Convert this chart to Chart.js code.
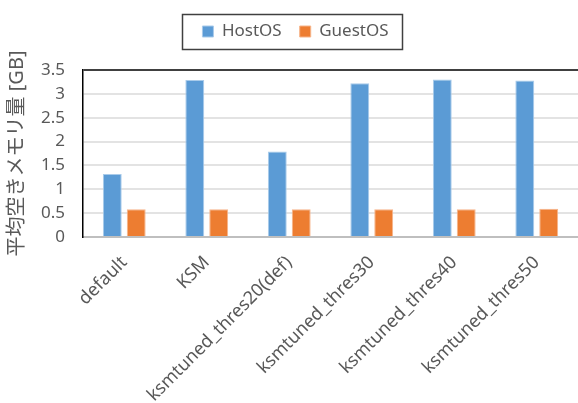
<!DOCTYPE html>
<html>
<head>
<meta charset="utf-8">
<script src="https://cdn.jsdelivr.net/npm/chart.js@4"></script>
<style>
  html, body { margin: 0; padding: 0; background: #fff; }
  #wrap { width: 578px; height: 403px; }
</style>
</head>
<body>
<div id="wrap"><canvas id="memChart"></canvas></div>
<script>
const categories = ['default', 'KSM', 'ksmtuned_thres20(def)', 'ksmtuned_thres30', 'ksmtuned_thres40', 'ksmtuned_thres50'];
const hostOS = [1.32, 3.29, 1.79, 3.22, 3.30, 3.28];
const guestOS = [0.58, 0.58, 0.58, 0.58, 0.58, 0.59];
const yTickLabels = ['0', '0.5', '1', '1.5', '2', '2.5', '3', '3.5'];

const FONT = '"Noto Sans", "Noto Sans CJK JP", sans-serif';
const TEXT = '#595959';
const LEGEND_SHIFT = 5;

// border round the legend items, like the Excel legend frame;
// also leaves extra room under the legend before the plot area
const legendFrame = {
    id: 'legendFrame',
    afterInit(chart) {
        const legend = chart.legend;
        if (!legend) return;
        const fit = legend.fit;
        legend.fit = function () {
            fit.call(this);
            this.height += 20;
        };
        const draw = legend.draw;
        legend.draw = function () {
            const c = this.ctx;
            c.save();
            c.translate(LEGEND_SHIFT, 0);
            draw.call(this);
            c.restore();
        };
    },
    afterDraw(chart) {
        const boxes = chart.legend && chart.legend.legendHitBoxes;
        if (!boxes || !boxes.length) return;
        const left = Math.min(...boxes.map(b => b.left)) - 20 + LEGEND_SHIFT;
        const right = Math.max(...boxes.map(b => b.left + b.width)) + 14 + LEGEND_SHIFT;
        const cy = boxes[0].top + boxes[0].height / 2;
        const ctx = chart.ctx;
        ctx.save();
        ctx.strokeStyle = '#404040';
        ctx.lineWidth = 1.5;
        ctx.strokeRect(Math.round(left) + 0.5, Math.round(cy - 18) + 0.5, Math.round(right - left), 35);
        ctx.restore();
    }
};

const ctx = document.getElementById('memChart').getContext('2d');
new Chart(ctx, {
    type: 'bar',
    data: {
        labels: categories,
        datasets: [{
            label: 'HostOS',
            data: hostOS,
            backgroundColor: '#5b9bd5',
            borderColor: '#a9cbea',
            borderWidth: 1,
            barPercentage: 0.79,
            categoryPercentage: 0.58
        }, {
            label: 'GuestOS',
            data: guestOS,
            backgroundColor: '#ed7d31',
            borderColor: '#f6b48a',
            borderWidth: 1,
            barPercentage: 0.79,
            categoryPercentage: 0.58
        }]
    },
    options: {
        responsive: true,
        maintainAspectRatio: false,
        animation: false,
        layout: {padding: {top: 5, left: 0, right: -3, bottom: 0}},
        plugins: {
            tooltip: {enabled: false},
            legend: {
                position: 'top',
                labels: {
                    boxWidth: 11,
                    boxHeight: 11,
                    padding: 18,
                    color: TEXT,
                    font: {family: FONT, size: 17}
                }
            }
        },
        scales: {
            x: {
                grid: {display: false},
                border: {color: '#bfbfbf', width: 2},
                ticks: {
                    color: TEXT,
                    font: {family: FONT, size: 18},
                    minRotation: 45,
                    maxRotation: 45,
                    autoSkip: false,
                    padding: 7
                },
                afterFit(scale) { scale.height = 166; }
            },
            y: {
                min: 0,
                max: 3.5,
                ticks: {
                    stepSize: 0.5,
                    color: TEXT,
                    font: {family: FONT, size: 17},
                    padding: 18,
                    callback: (v, i) => yTickLabels[i]
                },
                grid: {
                    drawTicks: false,
                    lineWidth: 2,
                    color: c => (c.tick && c.tick.value === 3.5) ? '#404040' : '#e3e3e3'
                },
                border: {color: '#000', width: 1.5},
                title: {
                    display: true,
                    text: '平均空きメモリ量 [GB]',
                    color: TEXT,
                    font: {family: FONT, size: 20},
                    padding: {top: 5, bottom: 0}
                },
                afterFit(scale) { scale.width = 83; }
            }
        }
    },
    plugins: [legendFrame]
});
</script>
</body>
</html>
